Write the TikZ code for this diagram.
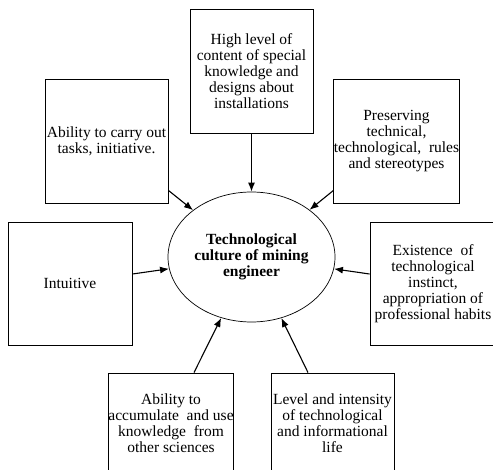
\documentclass[tikz,border=0pt]{standalone}
\usepackage{fontspec}
\setmainfont{Liberation Serif}
\usetikzlibrary{arrows.meta,shapes.geometric}
\begin{document}
\begin{tikzpicture}[x=1pt,y=-1pt,
  box/.style={draw,line width=0.9pt,rectangle,minimum width=123pt,minimum height=124pt,inner sep=0pt,align=center,font=\fontsize{15.5}{16}\selectfont},
  arr/.style={line width=1.1pt,-{Latex[length=9pt,width=7pt]}},
  core/.style={draw,line width=0.7pt,ellipse,minimum width=167pt,minimum height=130pt,inner sep=0pt,align=center,font=\fontsize{15.5}{16}\selectfont\bfseries}]
\useasboundingbox (0,0) rectangle (493,470);
\node[core] (e) at (251.5,257) {Technological\\culture of mining\\engineer};
\node[box] (b1) at (251.5,71.5) {High level of\\content of special\\knowledge and\\designs about\\installations};
\node[box] (b2) at (106.5,141) {Ability to carry out\\tasks, initiative.};
\node[box] (b3) at (396.5,141) {Preserving\\technical,\\technological,~ rules\\and stereotypes};
\node[box,minimum width=124pt,minimum height=123pt] (b4) at (70,283.5) {Intuitive};
\node[box,minimum width=126pt,minimum height=123pt] (b5) at (433,283.5) {Existence~ of\\technological\\instinct,\\appropriation of\\professional habits};
\node[box,minimum width=124pt,minimum height=100pt] (b6) at (171,423) {Ability to\\accumulate~ and use\\knowledge~ from\\other sciences};
\node[box,minimum width=123pt,minimum height=100pt] (b7) at (332.5,423) {Level and intensity\\of technological\\and informational\\life};
\draw[arr] (b1.south) -- (e);
\draw[arr] ([yshift=13pt]b2.south east) -- (e);
\draw[arr] ([yshift=13pt]b3.south west) -- (e);
\draw[arr] ([yshift=9.5pt]b4.east) -- (e);
\draw[arr] ([yshift=9.5pt]b5.west) -- (e);
\draw[arr] ([xshift=23pt]b6.north) -- (e);
\draw[arr] ([xshift=-24.5pt]b7.north) -- (e);
\end{tikzpicture}
\end{document}
